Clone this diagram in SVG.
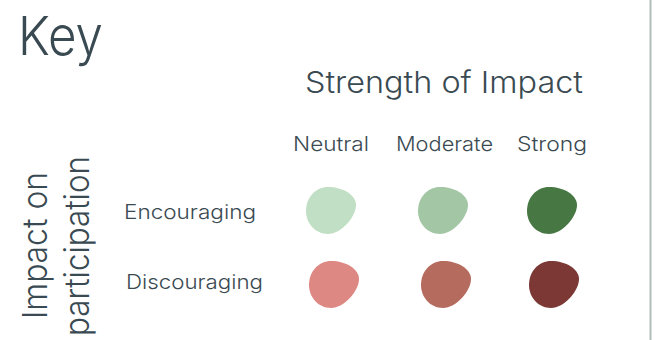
<svg xmlns="http://www.w3.org/2000/svg" width="666" height="340" viewBox="0 0 666 340">
<defs>
<style>
text{font-family:Inter,"Open Sans","Liberation Sans",sans-serif;font-weight:300;fill:#3a4a52;}
.l{font-size:20px;}
</style>
<path id="blob" d="M -25,0 C -25,-14 -15,-24 -3,-24 C 12,-24 25,-16 25,-6 C 25,6 10,23 -3,23 C -16,23 -25,12 -25,0 Z"/>
</defs>
<rect width="666" height="340" fill="#fff"/>
<line x1="650.5" y1="0" x2="650.5" y2="340" stroke="#b0bcb8" stroke-width="2"/>
<text x="18" y="55" style="font-size:54px" textLength="85" lengthAdjust="spacingAndGlyphs">Key</text>
<text x="305" y="93" style="font-size:30px" textLength="278" lengthAdjust="spacingAndGlyphs">Strength of Impact</text>
<g id="col-neutral"><text x="293" y="151" class="l" textLength="76" lengthAdjust="spacingAndGlyphs">Neutral</text></g>
<g id="col-moderate"><text x="396" y="151" class="l" textLength="97" lengthAdjust="spacingAndGlyphs">Moderate</text></g>
<g id="col-strong"><text x="517" y="151" class="l" textLength="70" lengthAdjust="spacingAndGlyphs">Strong</text></g>
<g id="row-enc"><text x="124" y="219" class="l" textLength="132" lengthAdjust="spacingAndGlyphs">Encouraging</text></g>
<g id="row-dis"><text x="126" y="289" class="l" textLength="137" lengthAdjust="spacingAndGlyphs">Discouraging</text></g>
<g id="axis-label" transform="translate(47,246) rotate(-90)">
<text x="-73" y="0" style="font-size:34px" textLength="147" lengthAdjust="spacingAndGlyphs">Impact on</text>
<text x="-90" y="42" style="font-size:34px" textLength="180" lengthAdjust="spacingAndGlyphs">participation</text>
</g>
<g id="enc-neutral"><use href="#blob" transform="translate(331,211)" fill="#c1dfc4"/></g>
<g id="enc-moderate"><use href="#blob" transform="translate(443,211)" fill="#a3c7a5"/></g>
<g id="enc-strong"><use href="#blob" transform="translate(552,211)" fill="#477844"/></g>
<g id="dis-neutral"><use href="#blob" transform="translate(334,285)" fill="#dd8883"/></g>
<g id="dis-moderate"><use href="#blob" transform="translate(446,285)" fill="#b56b5d"/></g>
<g id="dis-strong"><use href="#blob" transform="translate(554,285)" fill="#7b3834"/></g>
</svg>
